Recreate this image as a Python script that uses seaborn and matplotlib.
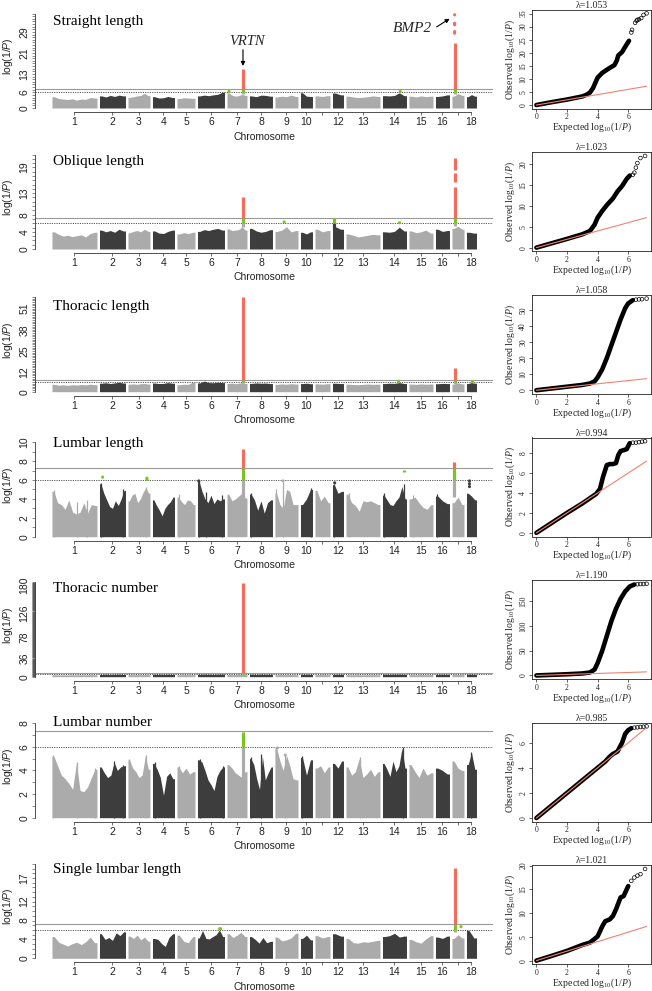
import numpy as np
import pandas as pd
import matplotlib
matplotlib.use("Agg")
import matplotlib.pyplot as plt
import seaborn as sns

# ---------------- data ----------------
chromosomes = list(range(1, 19))
chrom_size = [45, 26, 22, 22, 18, 27, 20, 23, 23, 12, 15, 11, 34, 24, 24, 14, 12, 10]
chrom_gap = 2.5

traits = ["Straight length", "Oblique length", "Thoracic length", "Lumbar length",
          "Thoracic number", "Lumbar number", "Single lumbar length"]
ytick_labels = [[0, 6, 13, 21, 29], [0, 4, 8, 13, 19], [0, 12, 25, 38, 51],
                [0, 2, 4, 6, 8, 10], [0, 36, 78, 126, 180], [0, 2, 4, 6, 8],
                [0, 4, 8, 12, 17]]
yaxis_top = [36, 22, 58, 10, 187, 8, 20]
lambdas = ["1.053", "1.023", "1.058", "0.994", "1.190", "0.985", "1.021"]
suggestive, genomewide = 6.0, 7.3

# per-chromosome envelope of -log10(P)
env_straight = [[4.3, 3.6, 3.4, 3.2, 3.5, 3.0, 3.4, 3.3, 4.0, 3.8], [4.6, 4.2, 4.8, 4.4, 4.9, 4.6],
                [4.0, 4.3, 4.6, 4.8, 5.6, 4.7], [4.3, 3.8, 3.9, 4.4, 4.0], [3.6, 3.9, 3.8, 3.7],
                [4.6, 4.9, 4.7, 5.0, 5.2, 6.0], [5.8, 4.9, 4.5, 4.7, 5.2, 4.8], [4.6, 4.3, 4.9, 4.8, 4.5],
                [4.2, 4.5, 4.3, 4.9, 4.4], [5.8, 4.5, 4.4], [4.6, 4.4, 4.7], [5.7, 5.0],
                [4.5, 4.2, 4.0, 4.1, 4.3, 4.6, 4.4], [4.7, 4.6, 4.8, 5.8, 4.7], [4.5, 4.2, 4.6, 4.3, 4.5],
                [4.4, 4.6, 5.0], [4.5, 5.5, 4.8], [4.3, 5.1, 4.5]]
env_oblique = [[4.0, 3.4, 3.0, 3.2, 2.9, 3.1, 3.3, 2.8, 3.6, 3.9], [4.4, 4.0, 4.3, 3.9, 4.6, 4.2],
               [3.8, 4.1, 4.3, 4.0, 4.6, 4.1], [4.2, 3.7, 3.6, 4.1, 4.4], [3.5, 3.8, 3.6, 3.9],
               [4.1, 4.5, 4.3, 4.6, 4.8, 4.4], [4.7, 4.3, 4.4, 4.5, 5.2, 4.4], [4.8, 4.2, 3.9, 4.1, 4.5],
               [4.1, 4.4, 5.2, 4.0, 4.3], [3.9, 3.5, 4.0], [4.6, 4.0, 4.3], [5.2, 4.6],
               [3.5, 3.2, 2.8, 3.0, 3.2, 3.4, 3.3], [4.0, 3.9, 4.1, 5.1, 4.2], [4.2, 3.8, 4.0, 4.4, 3.7],
               [4.6, 4.1, 4.3], [4.8, 5.3, 4.6], [3.9, 3.7]]
env_thoracic = [[4.5, 4.0, 4.2, 3.9, 4.3, 4.1, 4.4, 4.2, 4.6, 4.3], [5.2, 5.5, 5.0, 5.4, 5.8, 5.3],
                [4.6, 4.8, 4.5, 4.9, 5.0, 4.7], [5.3, 5.0, 5.1, 5.6, 5.2], [4.3, 4.6, 4.5, 5.9],
                [5.4, 6.5, 5.6, 5.5, 5.8, 5.6], [5.0, 5.3, 4.9, 5.2, 5.6, 5.0], [5.1, 5.4, 5.2, 5.3, 5.0],
                [4.5, 4.8, 4.6, 4.9, 4.7], [5.0, 5.2, 4.9], [4.8, 4.6, 4.9], [5.2, 5.0],
                [4.6, 4.4, 4.3, 4.5, 4.7, 4.5, 4.6], [5.0, 5.2, 5.1, 5.6, 5.0], [4.7, 4.5, 4.8, 4.6, 4.7],
                [4.9, 5.1, 5.0], [4.6, 5.5, 4.8], [5.0, 5.6, 5.2]]
env_lumbar = [[4.8, 3.6, 3.4, 2.9, 3.9, 2.6, 2.4, 2.6, 3.6, 2.5, 3.4, 3.3],
              [5.6, 4.6, 3.9, 3.2, 3.0, 3.8, 3.3, 4.0, 4.9], [3.8, 4.4, 4.6, 3.6, 4.0, 4.7, 5.2, 4.6],
              [3.9, 3.3, 2.8, 2.2, 3.0, 3.4, 3.7, 4.2], [4.2, 3.7, 3.4, 3.9, 3.8, 3.4],
              [5.9, 4.8, 4.0, 3.6, 4.4, 3.5, 4.0, 3.8, 4.0], [4.5, 3.8, 4.0, 4.3, 4.6, 4.1],
              [4.5, 3.9, 2.8, 3.8, 2.5, 3.6, 3.9], [4.6, 3.4, 3.0, 5.0, 4.8, 3.4, 3.4], [3.4, 4.0, 5.0],
              [4.9, 3.8, 4.3, 3.6], [5.5, 4.6, 4.8], [4.5, 3.6, 3.3, 2.7, 3.8, 3.7, 3.8, 3.6, 3.4],
              [4.4, 3.9, 3.4, 3.3, 3.8, 4.2, 5.3, 4.0], [4.0, 4.2, 3.6, 3.1, 2.9, 3.4], [4.3, 3.8, 3.5],
              [3.6, 4.2, 3.4], [4.6, 4.3, 3.9]]
env_tnumber = [[4.0, 3.6, 3.8, 3.5, 3.9, 3.7, 4.1, 3.8, 4.2, 3.9], [4.5, 4.8, 4.4, 4.7, 4.9, 4.6],
               [4.2, 4.0, 4.3, 4.1, 4.4, 4.2], [4.6, 4.9, 4.5, 4.8, 4.7], [4.0, 4.3, 4.1, 4.2],
               [4.7, 5.0, 4.8, 4.6, 4.9, 5.1], [4.4, 4.2, 4.5, 4.3, 4.6, 4.4], [4.8, 4.6, 4.9, 4.7, 4.8],
               [4.1, 4.3, 4.2, 4.4, 4.0], [4.7, 4.9, 4.6], [4.2, 4.4, 4.1], [4.6, 4.8],
               [4.0, 3.9, 4.1, 3.8, 4.0, 4.2, 3.9], [4.8, 4.7, 4.9, 5.0, 4.6], [4.2, 4.0, 4.3, 4.1, 4.2],
               [4.7, 4.8, 4.6], [4.3, 4.5, 4.2], [4.8, 5.0, 4.7]]
env_lnumber = [[5.2, 4.4, 3.6, 3.3, 2.9, 2.4, 4.6, 2.3, 2.2, 2.6, 3.4, 4.1],
               [4.3, 3.8, 3.4, 3.6, 4.7, 4.0, 4.3, 4.4], [4.9, 4.2, 3.9, 3.4, 3.6, 5.2, 4.1],
               [4.6, 4.1, 3.4, 1.9, 3.5, 3.8, 3.3], [4.3, 3.8, 4.2, 3.7, 3.9],
               [4.9, 4.7, 4.0, 3.2, 2.8, 2.3, 3.5, 4.0, 4.3], [4.5, 4.2, 3.8, 3.6, 3.4, 3.9],
               [5.0, 4.5, 3.3, 2.4, 5.2, 3.2, 3.8, 4.3], [5.9, 4.8, 4.0, 5.3, 4.4, 3.3, 3.2],
               [5.1, 3.6, 4.9], [4.2, 4.4, 3.8, 4.3], [4.6, 4.2, 4.8],
               [4.3, 3.6, 3.9, 5.0, 3.4, 3.7, 4.1, 3.5, 3.9], [4.6, 4.1, 3.5, 4.8, 3.9, 4.4, 5.9, 4.2],
               [4.5, 3.9, 3.4, 4.2, 3.6, 3.8], [4.2, 4.0, 3.7], [4.8, 4.2, 4.0], [4.5, 5.5, 4.1]]
env_single = [[4.6, 3.4, 3.0, 2.6, 3.1, 3.4, 2.9, 3.5, 4.5, 3.3], [5.2, 4.0, 4.4, 3.8, 5.4, 4.8, 5.6],
              [4.7, 4.2, 4.9, 3.9, 4.5, 3.6], [4.2, 4.0, 3.1, 2.5, 4.4, 5.2], [4.9, 3.6, 3.3, 4.6],
              [4.3, 5.9, 4.2, 4.1, 4.6, 5.0, 6.0, 4.6], [5.2, 4.4, 4.9, 5.5, 4.6],
              [4.6, 4.0, 3.2, 4.4, 3.3, 3.6], [4.5, 3.7, 3.9, 4.3, 5.3], [4.2, 4.9, 3.9],
              [4.8, 4.3, 4.6], [5.2, 4.7], [4.2, 3.3, 3.2, 3.5, 3.4, 3.6, 3.8],
              [4.6, 4.8, 5.3, 4.5, 4.7], [4.0, 3.5, 3.2, 4.1, 4.8], [4.5, 4.2, 4.7], [4.2, 5.0, 4.3],
              [5.9, 4.3]]

# narrow peaks rising above the envelope: (chromosome, relative position, -log10 P)
spikes_lumbar = [(1, 0.04, 4.9), (1, 0.55, 3.7), (1, 0.78, 3.9), (2, 0.05, 5.7), (2, 0.9, 5.0),
                 (3, 0.8, 5.3), (5, 0.1, 4.5), (6, 0.06, 5.9), (6, 0.3, 4.7), (6, 0.9, 4.4),
                 (8, 0.05, 4.6), (9, 0.06, 5.1), (9, 0.35, 5.8), (10, 0.85, 5.2), (12, 0.15, 5.6),
                 (13, 0.1, 4.6), (14, 0.05, 4.6), (14, 0.88, 5.6), (15, 0.15, 4.4), (16, 0.1, 4.5)]
spikes_lnumber = [(1, 0.03, 5.3), (1, 0.56, 4.7), (1, 0.95, 4.2), (2, 0.55, 4.8), (2, 0.9, 4.5),
                  (3, 0.05, 5.0), (3, 0.8, 5.3), (4, 0.1, 4.7), (5, 0.1, 4.4), (6, 0.1, 5.0),
                  (6, 0.93, 4.4), (8, 0.05, 5.1), (8, 0.52, 5.4), (9, 0.04, 6.0), (9, 0.42, 5.4),
                  (10, 0.1, 5.2), (13, 0.4, 5.1), (14, 0.85, 6.0), (18, 0.5, 5.6)]
spikes = [[], [], [], spikes_lumbar, [], spikes_lnumber, []]

# significant SNP stacks: (chromosome, relative position, lowest, highest)
hits_straight = [(7, 0.80, 5.2, 14.9), (17, 0.22, 5.5, 24.8)]
hits_oblique = [(7, 0.80, 5.2, 12.1), (12, 0.12, 5.0, 7.2), (17, 0.22, 5.3, 14.5),
                (17, 0.22, 15.6, 17.8), (17, 0.22, 18.5, 21.1)]
hits_thoracic = [(7, 0.80, 5.5, 58.3), (17, 0.22, 5.0, 14.8)]
hits_lumbar = [(7, 0.80, 4.0, 9.3), (17, 0.20, 4.2, 7.9), (14, 0.89, 6.85, 7.1)]
hits_tnumber = [(7, 0.80, 4.0, 186.0)]
hits_lnumber = [(7, 0.80, 3.4, 7.25)]
hits_single = [(17, 0.22, 5.5, 19.2)]

# isolated SNPs: (chromosome, relative position, -log10 P)
dots_straight = [(7, 0.10, 6.3), (14, 0.74, 6.3), (17, 0.22, 28.5), (17, 0.22, 29.1),
                 (17, 0.22, 31.7), (17, 0.22, 32.3), (17, 0.22, 35.5)]
dots_oblique = [(9, 0.40, 6.3), (14, 0.71, 6.1)]
dots_thoracic = [(14, 0.67, 6.4), (18, 0.60, 6.2)]
dots_lumbar = [(2, 0.12, 6.3), (3, 0.86, 6.05), (3, 0.86, 6.2), (18, 0.30, 5.3), (18, 0.30, 5.6),
               (18, 0.30, 5.9), (12, 0.20, 5.7), (9, 0.35, 5.9), (6, 0.05, 5.9)]
dots_tnumber = []
dots_lnumber = [(9, 0.10, 5.9), (9, 0.45, 5.3)]
dots_single = [(6, 0.82, 6.25), (6, 0.86, 6.25), (17, 0.75, 6.7)]

# QQ curves: expected vs observed -log10 P
qq_exp_straight = [0, 1, 2, 3, 3.3, 3.5, 3.7, 3.85, 4.0, 4.3, 4.6, 4.9, 5.1, 5.25, 5.35, 5.6, 5.8, 6.05]
qq_obs_straight = [0, 1.1, 2.1, 3.3, 4.0, 4.8, 6.5, 8.5, 10.5, 12.3, 13.5, 14.6, 15.3, 17.0, 19.0, 20.3, 22.3, 24.6]
qq_exp_oblique = [0, 1, 2, 3, 3.5, 3.8, 4.0, 4.3, 4.6, 5.0, 5.3, 5.6, 5.9, 6.1]
qq_obs_oblique = [0, 1.05, 2.1, 3.2, 4.0, 5.5, 7.2, 8.8, 10.2, 11.8, 13.5, 14.8, 16.5, 17.3]
qq_exp_thoracic = [0, 1, 2, 3, 3.5, 3.8, 4.0, 4.3, 4.6, 4.9, 5.2, 5.5, 5.8, 6.0, 6.3]
qq_obs_thoracic = [0, 1.1, 2.2, 3.3, 4.2, 5.5, 8, 13, 20, 28, 36, 44, 51, 54, 56]
qq_exp_lumbar = [0, 1, 2, 3, 3.9, 4.15, 4.35, 4.6, 4.8, 5.0, 5.2, 5.35, 5.5, 5.9, 6.1]
qq_obs_lumbar = [0, 1.0, 2.0, 2.95, 3.9, 4.4, 5.6, 6.8, 6.9, 6.9, 7.0, 7.8, 8.2, 8.4, 9.0]
qq_exp_tnumber = [0, 1, 2, 3, 3.5, 3.8, 4.0, 4.3, 4.6, 4.9, 5.2, 5.5, 5.8, 6.1, 6.4]
qq_obs_tnumber = [0, 1.2, 2.4, 4, 6, 12, 25, 50, 80, 110, 135, 155, 170, 180, 184]
qq_exp_lnumber = [0, 1, 2, 3, 4, 4.5, 4.8, 5.0, 5.3, 5.6, 5.8, 6.0, 6.2]
qq_obs_lnumber = [0, 1.0, 2.0, 3.0, 4.0, 4.5, 4.9, 5.1, 5.3, 6.0, 6.7, 7.0, 7.15]
qq_exp_single = [0, 1, 2, 3, 3.5, 4.0, 4.3, 4.5, 4.8, 5.0, 5.2, 5.5, 5.7, 6.0]
qq_obs_single = [0, 1.0, 2.05, 3.3, 3.8, 5.1, 7.2, 8.3, 8.7, 9.4, 10.8, 13.3, 13.6, 15.7]

qq_tail_exp_straight = [6.2, 6.25, 6.45, 6.55, 6.6, 6.7, 6.85, 7.0, 7.2]
qq_tail_obs_straight = [27.8, 28.8, 31.5, 32.3, 32.6, 32.8, 33.3, 34.5, 35.1]
qq_tail_exp_oblique = [6.3, 6.4, 6.5, 6.6, 6.8, 7.1]
qq_tail_obs_oblique = [17.5, 18.0, 19.2, 20.3, 21.5, 22.0]
qq_tail_exp_thoracic = [6.5, 6.7, 6.9, 7.2]
qq_tail_obs_thoracic = [56.3, 56.5, 56.6, 57.0]
qq_tail_exp_lumbar = [6.3, 6.5, 6.7, 6.9, 7.1]
qq_tail_obs_lumbar = [9.05, 9.05, 9.1, 9.15, 9.2]
qq_tail_exp_tnumber = [6.6, 6.8, 7.0, 7.2]
qq_tail_obs_tnumber = [184.5, 185, 185, 185.5]
qq_tail_exp_lnumber = [6.4, 6.6, 6.8, 7.0, 7.2]
qq_tail_obs_lnumber = [7.2, 7.22, 7.25, 7.27, 7.3]
qq_tail_exp_single = [6.2, 6.4, 6.6, 6.8, 7.1]
qq_tail_obs_single = [16.8, 17.5, 17.9, 18.2, 19.3]
qq_exp_max = 7.2

qq_yticks = [[0, 5, 10, 15, 20, 25, 30, 35], [0, 5, 10, 15, 20], [0, 10, 20, 30, 40, 50],
             [0, 2, 4, 6, 8], [0, 50, 100, 150], [0, 2, 4, 6], [0, 5, 10, 15, 20]]

envs = [env_straight, env_oblique, env_thoracic, env_lumbar, env_tnumber, env_lnumber, env_single]
hits = [hits_straight, hits_oblique, hits_thoracic, hits_lumbar, hits_tnumber, hits_lnumber, hits_single]
dots = [dots_straight, dots_oblique, dots_thoracic, dots_lumbar, dots_tnumber, dots_lnumber, dots_single]
qq_exp = [qq_exp_straight, qq_exp_oblique, qq_exp_thoracic, qq_exp_lumbar, qq_exp_tnumber, qq_exp_lnumber, qq_exp_single]
qq_obs = [qq_obs_straight, qq_obs_oblique, qq_obs_thoracic, qq_obs_lumbar, qq_obs_tnumber, qq_obs_lnumber, qq_obs_single]
qq_tx = [qq_tail_exp_straight, qq_tail_exp_oblique, qq_tail_exp_thoracic, qq_tail_exp_lumbar,
         qq_tail_exp_tnumber, qq_tail_exp_lnumber, qq_tail_exp_single]
qq_ty = [qq_tail_obs_straight, qq_tail_obs_oblique, qq_tail_obs_thoracic, qq_tail_obs_lumbar,
         qq_tail_obs_tnumber, qq_tail_obs_lnumber, qq_tail_obs_single]

# ---------------- style ----------------
sns.set_theme(style="ticks")
plt.rcParams["font.family"] = ["Liberation Sans", "DejaVu Sans"]
plt.rcParams["mathtext.fontset"] = "custom"
plt.rcParams["mathtext.rm"] = "Liberation Serif"
plt.rcParams["mathtext.it"] = "Liberation Serif:italic"
plt.rcParams["mathtext.sf"] = "Liberation Sans:italic"
plt.rcParams["mathtext.bf"] = "Liberation Serif:bold"

LIGHT, DARK = "#ABABAB", "#3D3D3D"
RED, GREEN = "#F36C5C", "#7CC321"
SERIF = ["Liberation Serif", "DejaVu Serif"]

W, H = 652, 991
fig = plt.figure(figsize=(W / 100, H / 100), dpi=100)


def add_ax(l, t, r, b):
    return fig.add_axes([l / W, 1 - b / H, (r - l) / W, (b - t) / H])


sizes = np.array(chrom_size, dtype=float)
starts = np.concatenate([[0], np.cumsum(sizes[:-1] + chrom_gap)])
centers = starts + sizes / 2
total = starts[-1] + sizes[-1]
chrom_color = [LIGHT if i % 2 == 0 else DARK for i in range(18)]

man_zero = [108, 249, 391.7, 536.7, 676.7, 817.7, 958.3]
title_y = [21.7, 162, 306.7, 444, 588, 722, 870]

for r in range(7):
    y0 = man_zero[r]
    top = yaxis_top[r]
    s = 94.5 / top
    ax = add_ax(35, y0 - 100, 35 + 1.08 * total, y0 + 4)
    ax.set_xlim(-0.04 * total, 1.04 * total)
    ax.set_ylim(-4 / s, 100 / s)
    ax.axhline(genomewide, color="#9a9a9a", lw=0.8, zorder=1)
    ax.axhline(suggestive, color="#555555", lw=0.7, ls=(0, (1.2, 1.2)), zorder=1)

    for ci, vals in enumerate(envs[r]):
        n = len(vals)
        w = sizes[ci] / n
        xs = starts[ci] + w * (np.arange(n) + 0.5)
        xx = np.concatenate([[starts[ci]], xs, [starts[ci] + sizes[ci]]])
        yy = np.concatenate([[vals[0]], vals, [vals[-1]]])
        ax.fill_between(xx, 0, yy, color=chrom_color[ci], lw=0, zorder=2)

    for (c, f, v) in spikes[r]:
        x = starts[c - 1] + f * sizes[c - 1]
        ax.vlines(x, 0, v, colors=chrom_color[c - 1], lw=0.9, zorder=2)

    for (c, f, lo, hi) in hits[r]:
        x = starts[c - 1] + f * sizes[c - 1]
        for a, b, col in [(lo, min(hi, suggestive), chrom_color[c - 1]),
                          (max(lo, suggestive), min(hi, genomewide), GREEN),
                          (max(lo, genomewide), hi, RED)]:
            if b > a:
                ax.vlines(x, a, b, colors=col, lw=2.3, zorder=3)

    if dots[r]:
        dd = pd.DataFrame(dots[r], columns=["chrom", "frac", "logp"])
        dd["pos"] = [starts[c - 1] + f * sizes[c - 1] for c, f in zip(dd["chrom"], dd["frac"])]
        dd["cls"] = [("red" if v > genomewide else "green" if v > suggestive else ("light" if c % 2 == 1 else "dark"))
                     for c, v in zip(dd["chrom"], dd["logp"])]
        sns.scatterplot(data=dd, x="pos", y="logp", hue="cls",
                        palette={"red": RED, "green": GREEN, "light": LIGHT, "dark": DARK},
                        s=5, linewidth=0, legend=False, ax=ax, zorder=4)

    for sp in ["top", "right"]:
        ax.spines[sp].set_visible(False)
    ax.spines["left"].set_bounds(0, top)
    ax.spines["bottom"].set_bounds(centers[0], centers[-1])
    for sp in ["left", "bottom"]:
        ax.spines[sp].set_linewidth(0.6)
        ax.spines[sp].set_color("#333333")
    ax.set_xticks(centers)
    ax.set_xticklabels(["" if c in (11, 17) else str(c) for c in chromosomes])
    yt = np.arange(0, top + 1)
    ax.set_yticks(yt)
    ax.set_yticklabels([str(v) if v in ytick_labels[r] else "" for v in yt])
    ax.tick_params(axis="x", length=2.5, width=0.5, pad=1.2, labelsize=7.5, colors="#333333",
                   labelcolor="#222222")
    ax.tick_params(axis="y", length=2.5, width=0.4, pad=1.5, labelsize=7.5, colors="#333333",
                   labelcolor="#222222", labelrotation=90)
    for lab in ax.get_yticklabels():
        lab.set_va("center")
    ax.set_xlabel("")
    ax.set_ylabel("")

    fig.text(8 / W, 1 - (y0 - 52) / H, r"log(1/$\mathsf{P}$)", rotation=90, ha="center", va="center",
             fontsize=7.5, color="#222222")
    fig.text(264 / W, 1 - (y0 + 28.5) / H, "Chromosome", ha="center", va="center", fontsize=7.5,
             color="#222222")
    fig.text(53 / W, 1 - title_y[r] / H, traits[r], ha="left", va="center", fontsize=11,
             family=SERIF, color="black")

    if r == 0:
        xv = starts[6] + 0.80 * sizes[6]
        ax.annotate("", xy=(xv, 16.0), xytext=(xv, 22.2),
                    arrowprops=dict(arrowstyle="-|>", color="black", lw=0.8, mutation_scale=6,
                                    shrinkA=0, shrinkB=0))
        ax.text(xv + 4, 25.4, "VRTN", ha="center", va="center", fontsize=10.5, style="italic",
                family=SERIF)
        xb = starts[16] + 0.22 * sizes[16]
        ax.annotate("", xy=(xb - 5, 34.0), xytext=(xb - 18, 30.9),
                    arrowprops=dict(arrowstyle="-|>", color="black", lw=0.8, mutation_scale=6,
                                    shrinkA=0, shrinkB=0))
        ax.text(xb - 42, 30.2, "BMP2", ha="center", va="center", fontsize=11, style="italic",
                family=SERIF)

# ---------------- QQ plots ----------------
for r in range(7):
    b = 108.7 + 142.6 * r
    t = b - 99
    axq = add_ax(532, t, 651, b)
    m = max(max(qq_obs[r]), max(qq_ty[r]), qq_exp_max)
    axq.set_xlim(-0.04 * qq_exp_max, 1.04 * qq_exp_max)
    axq.set_ylim(-0.04 * m, 1.04 * m)
    sns.lineplot(x=qq_exp[r], y=qq_obs[r], color="black", lw=3.3, sort=False, ax=axq, zorder=2)
    sns.scatterplot(x=qq_tx[r], y=qq_ty[r], marker="o", facecolor="none", edgecolor="black",
                    s=7, linewidth=0.5, ax=axq, zorder=3)
    sns.lineplot(x=[0, qq_exp_max], y=[0, qq_exp_max], color="#F08272", lw=0.8, ax=axq, zorder=4)
    for sp in axq.spines.values():
        sp.set_visible(True)
        sp.set_linewidth(0.6)
        sp.set_color("#222222")
    axq.set_xticks([0, 2, 4, 6])
    axq.set_yticks(qq_yticks[r])
    axq.tick_params(axis="both", length=2.2, width=0.5, pad=1.2, labelsize=5.5, colors="#222222")
    axq.tick_params(axis="y", labelrotation=90)
    for lab in axq.get_yticklabels():
        lab.set_va("center")
        lab.set_family(SERIF)
    for lab in axq.get_xticklabels():
        lab.set_family(SERIF)
    axq.set_xlabel("")
    axq.set_ylabel("")
    fig.text(591.5 / W, 1 - (b + 19) / H, r"Expected $\mathrm{log}_{10}(1/\mathit{P})$", ha="center",
             va="center", fontsize=7, family=SERIF)
    fig.text(510 / W, 1 - (b - 49.5) / H, r"Observed $\mathrm{log}_{10}(1/\mathit{P})$", ha="center",
             va="center", fontsize=7, family=SERIF, rotation=90)
    fig.text(591.5 / W, 1 - (t - 4.5) / H, "\u03bb=" + lambdas[r], ha="center", va="center",
             fontsize=7, family=SERIF)

fig.savefig("out.png", dpi=100)
